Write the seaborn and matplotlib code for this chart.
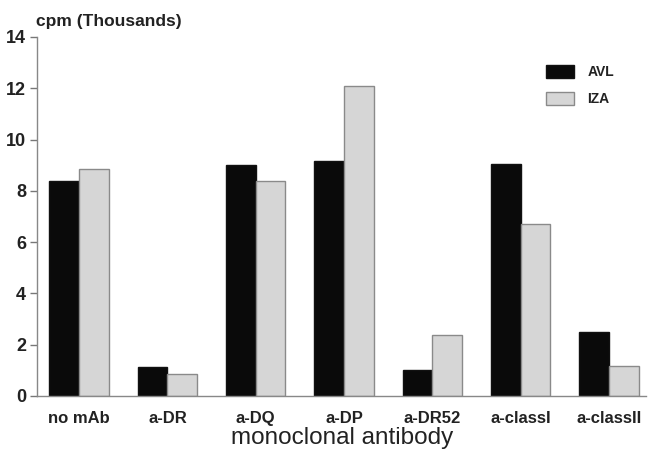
import matplotlib
matplotlib.use("Agg")
import matplotlib.pyplot as plt
import seaborn as sns
import pandas as pd
from matplotlib.patches import Patch

categories = ["no mAb", "a-DR", "a-DQ", "a-DP", "a-DR52", "a-classI", "a-classII"]
avl = [8.4, 1.15, 9.0, 9.15, 1.0, 9.05, 2.5]
iza = [8.85, 0.85, 8.4, 12.1, 2.38, 6.72, 1.18]
series = ["AVL", "IZA"]
yticks = [0, 2, 4, 6, 8, 10, 12, 14]

rows = []
for c, a, b in zip(categories, avl, iza):
    rows.append({"antibody": c, "line": "AVL", "cpm": a})
    rows.append({"antibody": c, "line": "IZA", "cpm": b})
df = pd.DataFrame(rows)

sns.set_style("white")
plt.rcParams["font.family"] = ["Liberation Sans", "DejaVu Sans"]

fig = plt.figure(figsize=(6.48, 4.5), dpi=100)
ax = fig.add_axes([0.0571, 0.12, 0.94, 0.798])

colors = {"AVL": "#0a0a0a", "IZA": "#d6d6d6"}
edges = {"AVL": "#111111", "IZA": "#8a8a8a"}
sns.barplot(data=df, x="antibody", y="cpm", hue="line", order=categories,
            hue_order=series, palette=colors, width=0.67, ax=ax,
            saturation=1, legend=False)
for cont, s in zip(ax.containers, series):
    for p in cont:
        p.set_edgecolor(edges[s])
        p.set_linewidth(1.0)

ax.set_xlim(-0.476, 6.42)
ax.set_ylim(0, 14)
ax.set_yticks(yticks)
ax.set_yticklabels([str(t) for t in yticks], fontsize=13, fontweight="bold", color="#222222")
for lab in ax.get_xticklabels():
    lab.set_fontsize(12)
    lab.set_fontweight("bold")
    lab.set_color("#222222")
ax.tick_params(axis="y", left=True, length=5, width=1, color="#777777", pad=3)
ax.tick_params(axis="x", bottom=False, pad=7)
for s in ["top", "right"]:
    ax.spines[s].set_visible(False)
for s in ["left", "bottom"]:
    ax.spines[s].set_color("#888888")
    ax.spines[s].set_linewidth(1.0)
ax.set_ylabel("")
ax.set_xlabel("")

fig.text(342 / 648, 1 - 444 / 450, "monoclonal antibody", fontsize=17.5,
         color="#222222", ha="center", va="baseline")

fig.text(0.055, 0.952, "cpm (Thousands)", fontsize=12.5, fontweight="bold",
         color="#222222", ha="left", va="center")

handles = [Patch(facecolor=colors[s], edgecolor=edges[s], label=s) for s in series]
leg = ax.legend(handles=handles, loc="upper left", bbox_to_anchor=(0.815, 0.957),
                frameon=False, handlelength=2.0, handleheight=1.08,
                labelspacing=0.9, handletextpad=1.0,
                prop={"weight": "bold", "size": 10})
for t in leg.get_texts():
    t.set_color("#222222")

fig.savefig("out.png", dpi=100)
